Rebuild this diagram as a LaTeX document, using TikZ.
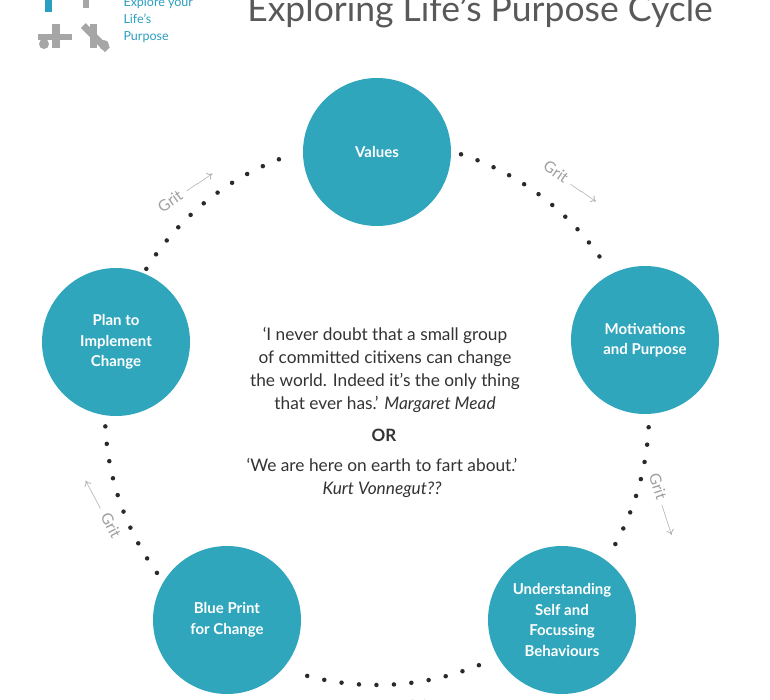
\documentclass[tikz,border=0pt]{standalone}
\usepackage{fontspec}
\setmainfont{Lato}
\begin{document}
\begin{tikzpicture}[x=1pt,y=-1pt,
  circ/.style={circle,fill=teal1,minimum size=148pt,inner sep=0pt,align=center,text=white,font=\fontsize{15}{20.5}\selectfont\bfseries},
  dots/.style={line width=4.5pt,line cap=round,dash pattern=on 0pt off 17.5pt,draw=dotc},
  grit/.style={text=gray!75,font=\fontsize{15.5}{17}\selectfont},
  quote/.style={align=center,text=black!80,font=\fontsize{17.3}{23}\selectfont}]
\definecolor{teal1}{HTML}{2FA6BB}
\definecolor{dotc}{HTML}{2A2A2A}
\definecolor{logoblue}{HTML}{2A9FBF}
\useasboundingbox (0,0) rectangle (770,700);
\fill[white] (0,0) rectangle (770,700);
% title
\node[text=black!65,font=\fontsize{35.5}{37}\selectfont,anchor=center] (title) at (480,11) {Exploring Life’s Purpose Cycle};
% logo
\fill[logoblue] (45,0) rectangle (52,12);
\fill[gray!70] (83,0) rectangle (89,8);
\fill[gray!70] (52,24) rectangle (60,48);
\fill[gray!70] (38,34) rectangle (72,40);
\fill[gray!70] (44,44) circle (5);
\fill[gray!70] (90,24) rectangle (97,48);
\fill[gray!70,rotate around={-45:(95,38)}] (78,34) rectangle (112,41);
\fill[gray!70] (104,45) circle (5);
\node[anchor=north west,text=logoblue,align=left,font=\fontsize{12.5}{17}\selectfont] (logo) at (120,-6) {Explore your\\Life’s\\Purpose};
% dots
\def\cx{377}\def\cy{413}\def\R{272}
\draw[dots] (\cx,\cy) ++(-72:\R) arc[start angle=-72,end angle=-32,radius=\R];
\draw[dots] (\cx,\cy) ++(3:\R) arc[start angle=3,end angle=30,radius=\R];
\draw[dots] (\cx,\cy) ++(68:\R) arc[start angle=68,end angle=107,radius=\R];
\draw[dots] (\cx,\cy) ++(144:\R) arc[start angle=144,end angle=178,radius=\R];
\draw[dots] (\cx,\cy) ++(-148:\R) arc[start angle=-148,end angle=-108,radius=\R];
% circles
\node[circ] (v) at (377,152) {Values};
\node[circ] (m) at (645,340) {Motivations\\and Purpose};
\node[circ] (u) at (562,620) {Understanding\\Self and\\Focussing\\Behaviours};
\node[circ] (b) at (227,620) {Blue Print\\for Change};
\node[circ] (p) at (116,342) {Plan to\\Implement\\Change};
% grit
\node[grit,rotate=-35] (g1) at (572,183) {Grit \scalebox{1.5}[1]{$\longrightarrow$}};
\node[grit,rotate=35] (g2) at (186,190) {Grit \scalebox{1.5}[1]{$\longrightarrow$}};
\node[grit,rotate=-72] (g3) at (664,505) {Grit \scalebox{1.5}[1]{$\longrightarrow$}};
\node[grit,rotate=-62] (g4) at (102,508) {\scalebox{1.5}[1]{$\longleftarrow$} Grit};
\node[grit] (g5) at (400,706) {\scalebox{1.5}[1]{$\longleftarrow$} Grit};
% quote
\node[quote] (q1) at (385,370) {‘I never doubt that a small group\\of committed citixens can change\\the world. Indeed it’s the only thing\\that ever has.’ \textit{Margaret Mead}};
\node[quote,font=\fontsize{17}{18}\selectfont\bfseries] (or) at (384,435) {OR};
\node[quote] (q2) at (382,478) {‘We are here on earth to fart about.’\\\textit{Kurt Vonnegut??}};
\end{tikzpicture}
\end{document}
